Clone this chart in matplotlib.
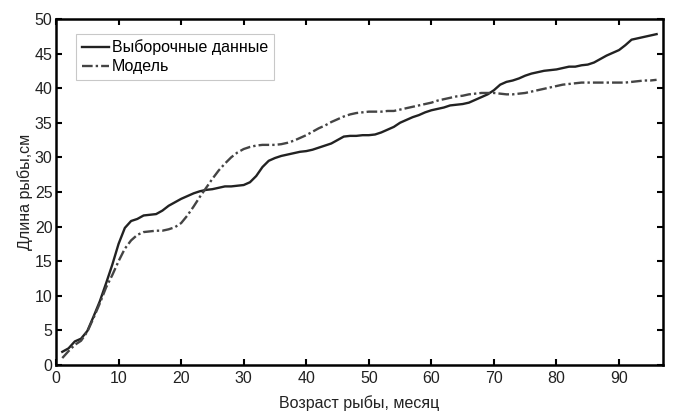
import matplotlib
matplotlib.use("Agg")
import matplotlib.pyplot as plt
import numpy as np

months = np.arange(1, 97)

sample_len = [
    1.9, 2.4, 3.4, 3.8, 4.9, 7.0, 9.2, 11.8, 14.5, 17.5,
    19.8, 20.8, 21.1, 21.6, 21.7, 21.8, 22.3, 23.0, 23.5, 24.0,
    24.4, 24.8, 25.1, 25.3, 25.4, 25.6, 25.8, 25.8, 25.9, 26.0,
    26.4, 27.3, 28.6, 29.5, 29.9, 30.2, 30.4, 30.6, 30.8, 30.9,
    31.1, 31.4, 31.7, 32.0, 32.5, 33.0, 33.1, 33.1, 33.2, 33.2,
    33.3, 33.6, 34.0, 34.4, 35.0, 35.4, 35.8, 36.1, 36.5, 36.8,
    37.0, 37.2, 37.5, 37.6, 37.7, 37.9, 38.3, 38.7, 39.1, 39.7,
    40.5, 40.9, 41.1, 41.4, 41.8, 42.1, 42.3, 42.5, 42.6, 42.7,
    42.9, 43.1, 43.1, 43.3, 43.4, 43.7, 44.2, 44.7, 45.1, 45.5,
    46.2, 47.0, 47.2, 47.4, 47.6, 47.8,
]

model_len = [
    1.0, 2.0, 2.9, 3.5, 4.8, 6.8, 8.9, 11.2, 13.0, 15.0,
    16.8, 18.0, 18.8, 19.2, 19.3, 19.4, 19.4, 19.6, 19.9, 20.5,
    21.6, 22.9, 24.3, 25.6, 26.9, 28.1, 29.1, 30.0, 30.7, 31.2,
    31.5, 31.7, 31.8, 31.8, 31.8, 31.9, 32.1, 32.4, 32.8, 33.2,
    33.7, 34.2, 34.6, 35.1, 35.5, 35.9, 36.2, 36.4, 36.5, 36.6,
    36.6, 36.6, 36.7, 36.7, 36.9, 37.1, 37.3, 37.5, 37.7, 37.9,
    38.2, 38.4, 38.6, 38.8, 38.9, 39.1, 39.2, 39.3, 39.3, 39.3,
    39.2, 39.1, 39.1, 39.2, 39.3, 39.5, 39.7, 39.9, 40.1, 40.3,
    40.5, 40.6, 40.7, 40.8, 40.8, 40.8, 40.8, 40.8, 40.8, 40.8,
    40.8, 40.9, 41.0, 41.1, 41.1, 41.2,
]

plt.rcParams["font.family"] = ["Liberation Sans", "DejaVu Sans"]

fig = plt.figure(figsize=(6.75, 4.11), dpi=100)
ax = fig.add_axes([0.083, 0.112, 0.899, 0.842])

ax.plot(months, sample_len, color="#222222", lw=1.7, label="Выборочные данные")
ax.plot(months, model_len, color="#444444", lw=1.7,
        linestyle=(0, (4.5, 1.3, 1.0, 1.3)), label="Модель")

ax.set_xlim(0, 97)
ax.set_ylim(0, 50)
ax.set_xticks(np.arange(0, 91, 10))
ax.set_yticks(np.arange(0, 51, 5))
ax.tick_params(direction="in", length=4, width=1.5, labelsize=11.5,
               top=True, right=True, colors="black")
ax.tick_params(axis="x", pad=4)
ax.tick_params(axis="y", pad=2.5)
for lbl in ax.get_xticklabels() + ax.get_yticklabels():
    lbl.set_color("#222222")
for s in ax.spines.values():
    s.set_linewidth(1.8)

ax.set_xlabel("Возраст рыбы, месяц", fontsize=11.5, labelpad=7, color="#222222")
ax.set_ylabel("Длина рыбы,см", fontsize=11.5, labelpad=1, color="#222222")

leg = ax.legend(loc="upper left", bbox_to_anchor=(0.033, 0.957), fontsize=11.5,
                frameon=True, fancybox=False, handlelength=1.7,
                borderpad=0.35, labelspacing=0.25, handletextpad=0.2,
                borderaxespad=0.0)
leg.get_frame().set_edgecolor("#bbbbbb")
leg.get_frame().set_linewidth(0.8)

fig.savefig("out.png", dpi=100)
